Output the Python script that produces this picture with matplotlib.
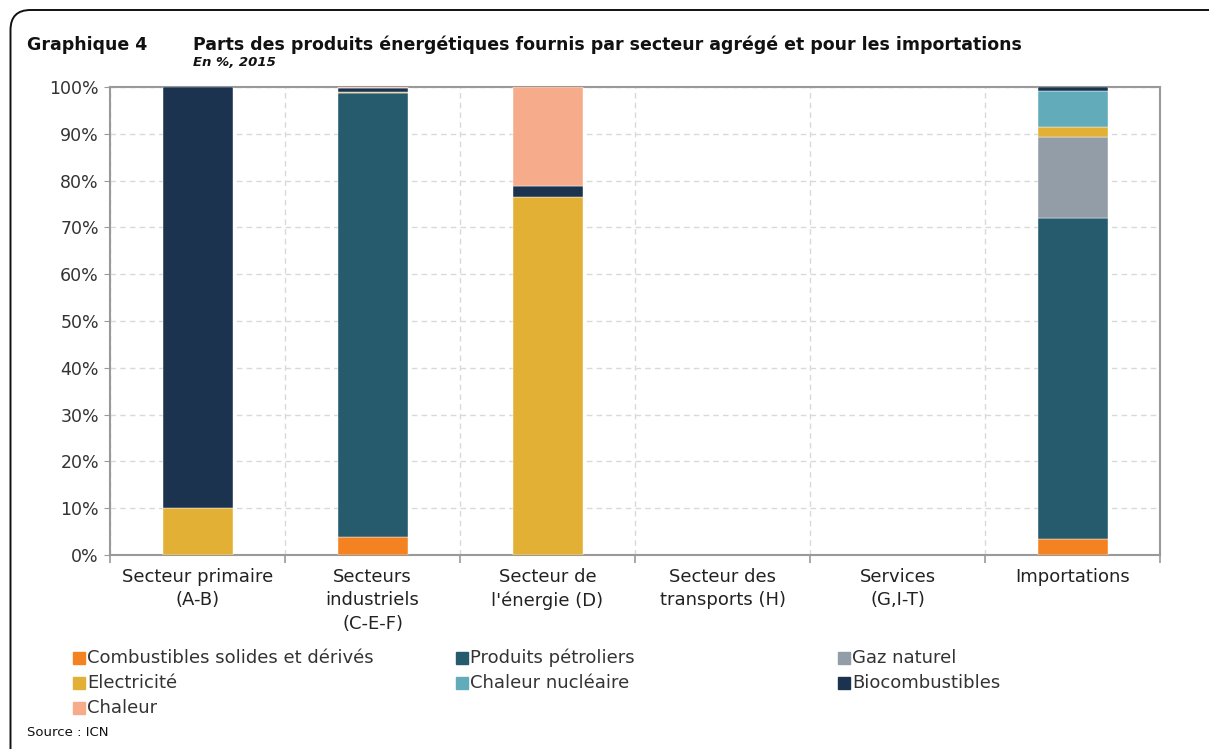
import matplotlib
matplotlib.use("Agg")
import matplotlib.pyplot as plt
from matplotlib.patches import FancyBboxPatch, Rectangle
import numpy as np

categories = ["Secteur primaire\n(A-B)", "Secteurs\nindustriels\n(C-E-F)", "Secteur de\nl'énergie (D)",
              "Secteur des\ntransports (H)", "Services\n(G,I-T)", "Importations"]
series_names = ["Combustibles solides et dérivés", "Produits pétroliers", "Gaz naturel",
                "Electricité", "Chaleur nucléaire", "Biocombustibles", "Chaleur"]
combustibles = [0.0, 3.8, 0.0, 0.0, 0.0, 3.4]
petroliers = [0.0, 95.0, 0.0, 0.0, 0.0, 68.7]
gaz = [0.0, 0.0, 0.0, 0.0, 0.0, 17.2]
electricite = [10.0, 0.2, 76.4, 0.0, 0.0, 2.1]
chaleur_nucl = [0.0, 0.0, 0.0, 0.0, 0.0, 7.7]
biocomb = [90.0, 0.7, 2.5, 0.0, 0.0, 0.9]
chaleur = [0.0, 0.3, 21.1, 0.0, 0.0, 0.0]
colors = ["#F58220", "#265B6E", "#939DA7", "#E2B035", "#62ABBA", "#1B334F", "#F6AC8A"]
yticks = [0, 10, 20, 30, 40, 50, 60, 70, 80, 90, 100]

series = [combustibles, petroliers, gaz, electricite, chaleur_nucl, biocomb, chaleur]

plt.rcParams['font.family'] = ['DejaVu Sans']
fig = plt.figure(figsize=(12.09, 7.49), dpi=100)
W, H = 1209, 749

# background overlay in pixel coords for the frame
bg = fig.add_axes([0, 0, 1, 1])
bg.set_xlim(0, W)
bg.set_ylim(H, 0)
bg.axis("off")
bg.add_patch(FancyBboxPatch((10.5, 10), 1400, 800, boxstyle="round,pad=0,rounding_size=20",
                            fill=False, edgecolor="#111111", linewidth=1.4))

ax = fig.add_axes([110 / W, 1 - 555 / H, (1160 - 110) / W, (555 - 87) / H])

x = np.arange(len(categories))
bottom = np.zeros(len(categories))
for vals, name, c in zip(series, series_names, colors):
    v = np.array(vals)
    bars = ax.bar(x, v, 0.4, bottom=bottom, color=c, label=name, edgecolor="#ffffff",
                  linewidth=0.3, zorder=3)
    for bar, val in zip(bars, v):
        if val == 0:
            bar.set_visible(False)
    bottom += v

ax.set_xlim(-0.5, len(categories) - 0.5)
ax.set_ylim(0, 100)
ax.set_yticks(yticks)
ax.set_yticklabels([f"{t}%" for t in yticks], fontsize=12.5, color="#333333")
ax.set_xticks(x)
ax.set_xticklabels(categories, fontsize=13, color="#222222", linespacing=1.4)
ax.tick_params(axis="x", length=0, pad=9)
ax.tick_params(axis="y", length=4, color="#999999", pad=4)
ax.set_xticks(np.arange(len(categories) + 1) - 0.5, minor=True)
ax.tick_params(axis="x", which="minor", length=6, color="#999999", width=1.2)
ax.grid(axis="y", color="#d9d9d9", linestyle=(0, (4, 3)), linewidth=1.0, zorder=0)
ax.grid(axis="x", which="minor", color="#d9d9d9", linestyle=(0, (4, 3)), linewidth=1.0, zorder=0)
for s in ax.spines.values():
    s.set_color("#999999")
    s.set_linewidth(1.5)

fig.text(27 / W, 1 - 45 / H, "Graphique 4", fontsize=12.5, fontweight="bold", va="center", color="#111111")
fig.text(193 / W, 1 - 45 / H, "Parts des produits énergétiques fournis par secteur agrégé et pour les importations",
         fontsize=12.5, fontweight="bold", va="center", color="#111111")
fig.text(193 / W, 1 - 63 / H, "En %, 2015", fontsize=9.5, fontweight="bold", style="italic",
         va="center", color="#111111")
fig.text(27 / W, 1 - 733 / H, "Source : ICN", fontsize=9.5, va="center", color="#111111")

# legend
col_x = [73, 456, 838]
row_y = [658, 683, 708]
for i, (name, c) in enumerate(zip(series_names, colors)):
    r, col = divmod(i, 3)
    xx, yy = col_x[col], row_y[r]
    bg.add_patch(Rectangle((xx, yy - 6), 12, 12, color=c))
    fig.text((xx + 14) / W, 1 - yy / H, name, fontsize=13, va="center", color="#333333")

fig.savefig("out.png", dpi=100)
